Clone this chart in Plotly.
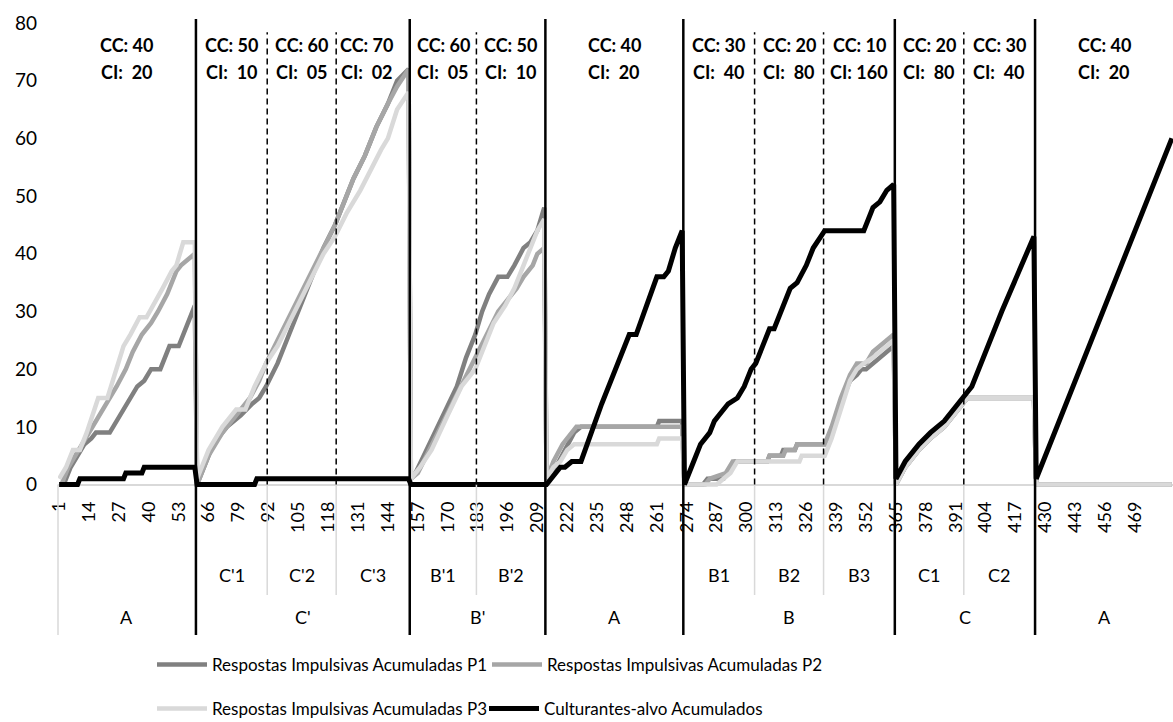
import plotly.graph_objects as go

# ---------------- data ----------------
PHASE    = ["A", "C'", "C'", "C'", "B'", "B'", "A", "B", "B", "B", "C", "C", "A"]
SUBPHASE = ["", "C'1", "C'2", "C'3", "B'1", "B'2", "", "B1", "B2", "B3", "C1", "C2", ""]
N_CYCLES = [60, 31, 30, 32, 29, 30, 60, 31, 30, 31, 30, 31, 60]
CC = ["40", "50", "60", "70", "60", "50", "40", "30", "20", "10", "20", "30", "40"]
CI = ["20", "10", "05", "02", "05", "10", "20", "40", "80", "160", "80", "40", "20"]

TICK_CYCLES = [1, 14, 27, 40, 53, 66, 79, 92, 105, 118, 131, 144, 157, 170, 183, 196,
               209, 222, 235, 248, 261, 274, 287, 300, 313, 326, 339, 352, 365, 378,
               391, 404, 417, 430, 443, 456, 469]

SERIES_NAMES = ["Respostas Impulsivas Acumuladas P1",
                "Respostas Impulsivas Acumuladas P2",
                "Respostas Impulsivas Acumuladas P3",
                "Culturantes-alvo Acumulados"]

# cumulative values (breakpoints: cycle, value)
P1_CYCLE = [1, 3, 6, 9, 12, 15, 17, 23, 26, 29, 32, 35, 38, 41, 45, 47, 49, 53, 55, 57, 60,
            61, 64, 68, 74, 80, 85, 88, 91, 96, 101, 106, 111, 116, 121, 125, 129, 134, 139, 144, 148, 153,
            154, 156, 162, 168, 174, 178, 182, 185, 188, 192, 196, 199, 203, 206, 209, 212,
            213, 217, 221, 225, 228, 261, 262, 272,
            273, 281, 283, 290, 292, 295, 309, 310, 315, 316, 321, 322, 334, 337, 341, 345, 348, 350, 352, 355, 358, 361, 364,
            365, 369, 375, 380, 386, 392, 396, 425,
            426, 485]
P1_VALUE = [0, 0, 3, 5, 7, 8, 9, 9, 11, 13, 15, 17, 18, 20, 20, 22, 24, 24, 26, 28, 31,
            0, 3, 7, 10, 12, 14, 15, 17, 21, 26, 31, 36, 41, 45, 49, 53, 57, 62, 66, 70, 72,
            1, 2, 7, 12, 17, 22, 26, 30, 33, 36, 36, 38, 41, 42, 44, 48,
            1, 3, 6, 9, 10, 10, 11, 11,
            0, 0, 1, 1, 2, 4, 4, 5, 5, 6, 6, 7, 7, 9, 14, 18, 19, 20, 20, 21, 22, 23, 24,
            0, 3, 6, 8, 10, 13, 15, 15,
            0, 0]

P2_CYCLE = [1, 2, 5, 8, 10, 13, 17, 20, 22, 26, 30, 33, 37, 41, 44, 48, 52, 54, 57, 60,
            61, 66, 72, 78, 84, 88, 91, 96, 101, 106, 111, 116, 121, 125, 129, 134, 139, 144, 148, 153,
            154, 157, 162, 168, 174, 178, 182, 188, 192, 196, 200, 203, 207, 209, 212,
            213, 216, 220, 224, 226, 272,
            273, 282, 284, 291, 294, 309, 310, 316, 317, 321, 322, 334, 337, 341, 345, 348, 352, 355, 358, 361, 364,
            365, 369, 375, 380, 386, 392, 396, 425,
            426, 485]
P2_VALUE = [0, 0, 3, 5, 6, 8, 11, 13, 14, 17, 20, 23, 26, 28, 30, 33, 37, 38, 39, 40,
            0, 5, 9, 12, 15, 18, 21, 25, 29, 33, 37, 41, 45, 49, 53, 57, 62, 66, 69, 72,
            1, 2, 6, 11, 16, 19, 22, 27, 30, 32, 34, 36, 38, 40, 41,
            1, 4, 7, 9, 10, 10,
            0, 0, 1, 2, 4, 4, 5, 5, 6, 6, 7, 7, 10, 15, 19, 21, 21, 23, 24, 25, 26,
            0, 3, 6, 8, 10, 13, 15, 15,
            0, 0]

P3_CYCLE = [1, 4, 7, 10, 13, 17, 18, 22, 25, 29, 32, 36, 39, 42, 46, 50, 52, 55, 60,
            61, 66, 72, 78, 82, 86, 91, 96, 101, 106, 111, 116, 121, 126, 132, 137, 141, 144, 148, 153,
            154, 158, 163, 170, 176, 182, 186, 190, 195, 199, 203, 206, 209, 212,
            213, 216, 219, 222, 225, 261, 262, 272,
            273, 287, 290, 293, 296, 323, 324, 334, 337, 341, 345, 348, 351, 355, 358, 361, 364,
            365, 369, 375, 380, 386, 392, 396, 425,
            426, 485]
P3_VALUE = [1, 3, 6, 6, 9, 14, 15, 15, 19, 24, 26, 29, 29, 31, 34, 37, 38, 42, 42,
            1, 6, 10, 13, 13, 17, 21, 24, 28, 32, 36, 40, 43, 47, 51, 55, 58, 60, 65, 68,
            1, 3, 6, 12, 17, 20, 24, 28, 31, 34, 38, 41, 44, 46,
            1, 3, 4, 6, 7, 7, 8, 8,
            0, 0, 1, 2, 4, 4, 5, 5, 8, 13, 18, 20, 21, 22, 23, 24, 25,
            0, 3, 6, 8, 10, 13, 15, 15,
            0, 0]

CULT_CYCLE = [1, 9, 10, 29, 30, 37, 38, 60,
              61, 86, 87, 153,
              154, 212,
              213, 215, 217, 219, 221, 224, 228, 237, 249, 252, 261, 264, 266, 269, 272,
              273, 276, 280, 284, 286, 288, 290, 292, 296, 299, 302, 304, 307, 310, 312, 315, 319, 322,
              326, 329, 332, 334, 351, 353, 355, 358, 361, 364,
              365, 369, 375, 380, 386, 392, 394, 398, 411, 425,
              426, 485]
CULT_VALUE = [0, 0, 1, 1, 2, 2, 3, 3,
              0, 0, 1, 1,
              0, 0,
              0, 1, 2, 3, 3, 4, 4, 14, 26, 26, 36, 36, 37, 41, 44,
              0, 3, 7, 9, 11, 12, 13, 14, 15, 17, 20, 21, 24, 27, 27, 30, 34, 35,
              38, 41, 43, 44, 44, 46, 48, 49, 51, 52,
              1, 4, 7, 9, 11, 14, 15, 17, 30, 43,
              1, 60]

# ---------------- style / layout ----------------
W, H = 1173, 722
ML, MR, MT, MB = 58, 0, 23, 234
PLOT_BOTTOM = H - MB
PLOT_H = H - MT - MB
FONT = "Lato, 'Liberation Sans', sans-serif"


def py(px):
    """pixel row -> paper y"""
    return (PLOT_BOTTOM - px) / PLOT_H


COLORS = ["#808080", "#a6a6a6", "#d9d9d9", "#000000"]
WIDTHS = [4.5, 4.5, 4.5, 5]
XS = [P1_CYCLE, P2_CYCLE, P3_CYCLE, CULT_CYCLE]
YS = [P1_VALUE, P2_VALUE, P3_VALUE, CULT_VALUE]
LEGENDS = ["legend", "legend2", "legend3", "legend4"]

fig = go.Figure()
for name, xs, ys, c, w, lg in zip(SERIES_NAMES, XS, YS, COLORS, WIDTHS, LEGENDS):
    fig.add_trace(go.Scatter(x=xs, y=ys, mode="lines", name=name,
                             line=dict(color=c, width=w), legend=lg,
                             hoverinfo="skip"))

# boundaries of sub-phases
edges = [0.5]
for n in N_CYCLES:
    edges.append(edges[-1] + n)

shapes = []
annotations = []
# left edge separator below the axis
shapes.append(dict(type="line", xref="paper", yref="paper", x0=0, x1=0,
                   y0=py(635), y1=py(484.5), line=dict(color="#d9d9d9", width=1.5)))
for i in range(1, len(N_CYCLES)):
    xb = edges[i]
    if PHASE[i] != PHASE[i - 1]:
        shapes.append(dict(type="line", xref="x", yref="paper", x0=xb, x1=xb,
                           y0=py(635), y1=py(19), line=dict(color="black", width=2.5)))
    else:
        shapes.append(dict(type="line", xref="x", yref="paper", x0=xb, x1=xb,
                           y0=py(595), y1=py(484.5), line=dict(color="#d9d9d9", width=1.5)))
        shapes.append(dict(type="line", xref="x", yref="y", x0=xb, x1=xb,
                           y0=0, y1=78.4, line=dict(color="black", width=1.5, dash="6px,4px")))

# CC / CI text blocks and level-2 labels
XSHIFT = {3: -6}
for i in range(len(N_CYCLES)):
    xc = (edges[i] + edges[i + 1]) / 2
    ci_txt = "CI: " + CI[i] if len(CI[i]) > 2 else "CI:\u00a0 " + CI[i]
    for txt, yv in (("CC: " + CC[i], 76.2), (ci_txt, 71.5)):
        annotations.append(dict(x=xc, y=yv, xref="x", yref="y", text="<b>" + txt + "</b>",
                                showarrow=False, xanchor="center", yanchor="middle",
                                xshift=XSHIFT.get(i, 0),
                                font=dict(family=FONT, size=18, color="black")))
    if SUBPHASE[i]:
        annotations.append(dict(x=xc, y=py(575), xref="x", yref="paper", text=SUBPHASE[i],
                                showarrow=False, xanchor="center", yanchor="middle",
                                font=dict(family=FONT, size=18, color="black")))

# level-3 (phase) labels
i = 0
while i < len(PHASE):
    j = i
    while j + 1 < len(PHASE) and PHASE[j + 1] == PHASE[i]:
        j += 1
    xc = (edges[i] + edges[j + 1]) / 2
    annotations.append(dict(x=xc, y=py(617), xref="x", yref="paper", text=PHASE[i],
                            showarrow=False, xanchor="center", yanchor="middle",
                            font=dict(family=FONT, size=18, color="black")))
    i = j + 1

leg_common = dict(xref="container", yref="container", xanchor="left", yanchor="middle",
                  orientation="h", bgcolor="rgba(0,0,0,0)", itemwidth=50,
                  font=dict(family=FONT, size=17, color="black"))
LEG_POS = [(152, 665), (487, 665), (152, 709), (484, 709)]
legends = {}
for lg, (lx, ly) in zip(LEGENDS, LEG_POS):
    legends[lg] = dict(leg_common, x=lx / W, y=1 - ly / H)

fig.update_layout(
    width=W, height=H,
    margin=dict(l=ML, r=MR, t=MT, b=MB, autoexpand=False),
    paper_bgcolor="white", plot_bgcolor="white",
    showlegend=True,
    shapes=shapes, annotations=annotations,
    xaxis=dict(range=[0.5, 485.5], tickmode="array", tickvals=TICK_CYCLES,
               ticktext=[str(t) for t in TICK_CYCLES], tickangle=-90,
               showgrid=False, zeroline=False, showline=False, ticks="",
               ticklabelstandoff=9,
               tickfont=dict(family=FONT, size=18, color="black")),
    yaxis=dict(range=[-0.6, 80], tickmode="array", tickvals=[0, 10, 20, 30, 40, 50, 60, 70, 80],
               showgrid=False, zeroline=True, zerolinecolor="#d9d9d9", zerolinewidth=1.5,
               showline=False, ticks="", ticklabelstandoff=20,
               tickfont=dict(family=FONT, size=19, color="black")),
    **legends,
)

fig.write_html("out.html")
